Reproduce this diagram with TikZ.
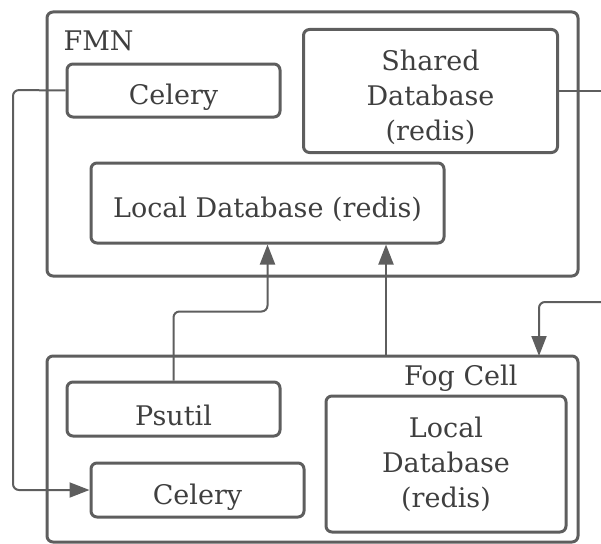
\documentclass[tikz,border=0pt]{standalone}
\usepackage{fontspec}
\setmainfont{DejaVu Serif}
\usetikzlibrary{arrows.meta}
\definecolor{boxgray}{HTML}{5E5E5E}
\definecolor{textgray}{HTML}{3F3F3F}

\begin{document}
\begin{tikzpicture}[x=1pt, y=-1pt,
                every node/.style={font=\fontsize{27}{35}\selectfont, text=textgray},
                group/.style={draw=boxgray, line width=3pt, rounded corners=6pt, inner sep=0pt},
                unit/.style={draw=boxgray, line width=3pt, rounded corners=6pt, inner sep=0pt, align=center},
                drop/.style={execute at begin node={\rule{0pt}{34pt}}},
                link/.style={draw=boxgray, line width=2pt, rounded corners=6pt},
                >={Triangle[length=20pt, width=15pt]}]

                \useasboundingbox (0,0) rectangle (601,543);

                \node[group, minimum width=531pt, minimum height=264pt] (FMN) at (312.5,144) {};
                \node[group, minimum width=531pt, minimum height=186pt] (FOG) at (312.5,449) {};
                \node[anchor=base west] (FMNname) at (60,50) {FMN};
                \node[anchor=base east] (FOGname) at (521,385) {Fog Cell};

                \node[unit, drop, minimum width=213pt, minimum height=53pt] (FMNcelery) at (173.5,90.5) {Celery};
                \node[unit, minimum width=254pt, minimum height=123pt] (shared) at (430.5,91) {\rule{0pt}{34pt}Shared\\Database\\(redis)};
                \node[unit, drop, minimum width=353pt, minimum height=80pt] (FMNlocal) at (267.5,203) {Local Database (redis)};

                \node[unit, drop, minimum width=213pt, minimum height=54pt] (psutil) at (173.5,409) {Psutil};
                \node[unit, drop, minimum width=213pt, minimum height=54pt] (FOGcelery) at (197.5,490) {Celery};
                \node[unit, minimum width=240pt, minimum height=136pt] (FOGlocal) at (446,464) {Local\\Database\\(redis)};

                \coordinate (left) at (13,90);
                \coordinate (outA) at (601,91);
                \coordinate (inB) at (601,302);
                \coordinate (FOGin) at (539,356);
                \coordinate (FOGout) at (386,356);

                \path [link, ->] (FMNcelery.west) -- (left) |- (FOGcelery.west);
                \path [link] (shared.east) -- (outA);
                \path [link, ->] (inB) -| (FOGin);
                \path [link, ->] (psutil.north) -- ++(0,-69) -| (FMNlocal.south);
                \path [link, ->] (FOGout) -- (FOGout |- FMNlocal.south);
            \end{tikzpicture}
\end{document}
